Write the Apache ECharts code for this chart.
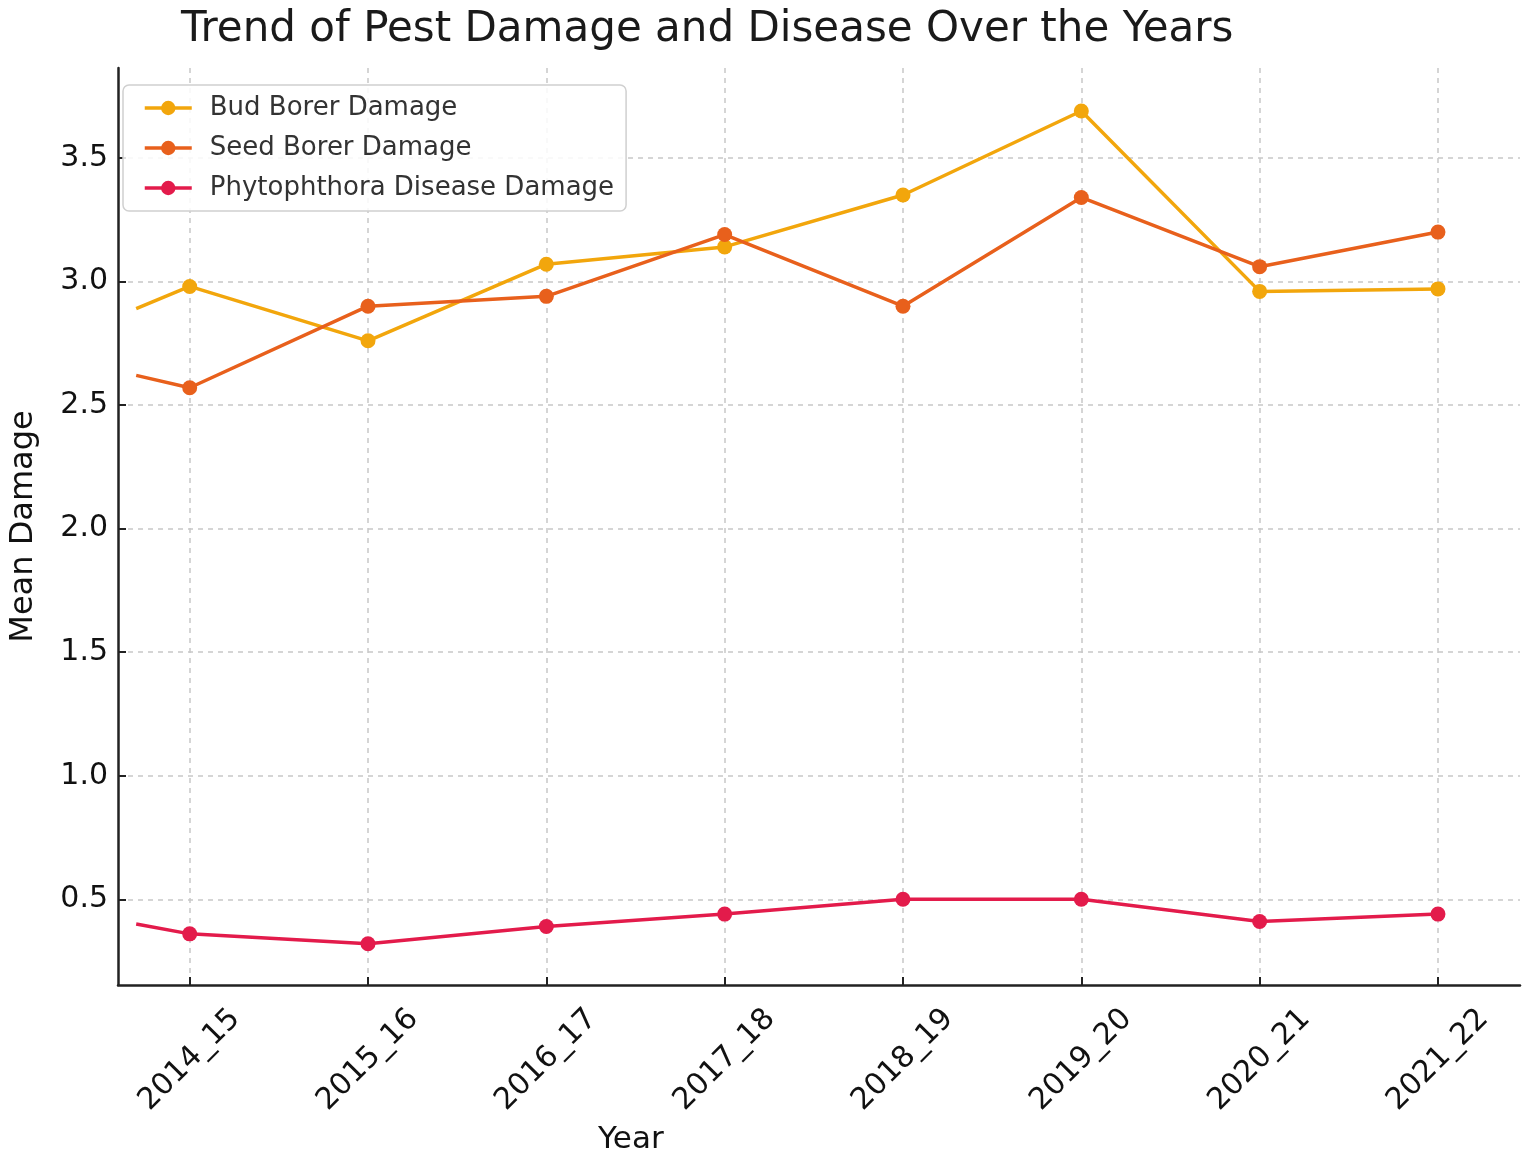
<!DOCTYPE html>
<html>
<head>
<meta charset="utf-8">
<title>Trend of Pest Damage and Disease Over the Years</title>
<script src="https://cdn.jsdelivr.net/npm/echarts@6/dist/echarts.min.js"></script>
<style>
  html, body { margin: 0; padding: 0; background: #fff; }
  #main { width: 1535px; height: 1176px; }
</style>
</head>
<body>
<div id="main"></div>
<script>
// categories and values
const years = ['2014_15', '2015_16', '2016_17', '2017_18', '2018_19', '2019_20', '2020_21', '2021_22'];
const budBorer = [2.98, 2.76, 3.07, 3.14, 3.35, 3.69, 2.96, 2.97];
const seedBorer = [2.57, 2.90, 2.94, 3.19, 2.90, 3.34, 3.06, 3.20];
const phytophthora = [0.36, 0.32, 0.39, 0.44, 0.50, 0.50, 0.41, 0.44];
// where the lines enter the plot on the left, before the first labelled year
const leadInX = -0.3;
const leadIn = [2.89, 2.62, 0.40];
const yTicks = [0.5, 1.0, 1.5, 2.0, 2.5, 3.0, 3.5];

const font = 'DejaVu Sans';
const colors = ['#F2A60C', '#E8601C', '#E31B4B'];
const names = ['Bud Borer Damage', 'Seed Borer Damage', 'Phytophthora Disease Damage'];
const values = [budBorer, seedBorer, phytophthora];
const xTicks = years.map((y, i) => i);

const chart = echarts.init(document.getElementById('main'), null, { renderer: 'canvas' });

const series = values.map((vals, k) => ({
  name: names[k],
  type: 'line',
  data: [{ value: [leadInX, leadIn[k]], symbol: 'none' }].concat(vals.map((v, i) => [i, v])),
  symbol: 'circle',
  symbolSize: 15,
  showAllSymbol: true,
  itemStyle: { color: colors[k] },
  lineStyle: { width: 3.5, color: colors[k] },
  emphasis: { disabled: true },
  z: 3 + k,
}));

const gridLine = { show: true, lineStyle: { color: '#c8c8c8', width: 1.5, type: [5, 5] } };

const option = {
  animation: false,
  backgroundColor: '#fff',
  title: {
    text: 'Trend of Pest Damage and Disease Over the Years',
    left: 176,
    top: 4,
    textStyle: { fontFamily: font, fontSize: 42, fontWeight: 'normal', color: '#1a1a1a' },
  },
  legend: {
    data: names,
    orient: 'vertical',
    left: 123,
    top: 85,
    padding: [10, 12, 10, 20],
    itemGap: 14,
    itemWidth: 47,
    itemHeight: 18,
    lineStyle: { width: 3.5 },
    backgroundColor: 'rgba(255,255,255,0.85)',
    borderColor: '#d0d0d0',
    borderWidth: 1.5,
    borderRadius: 6,
    textStyle: { fontFamily: font, fontSize: 26, color: '#333', padding: [0, 0, 0, 13] },
  },
  grid: { left: 113, right: 15, top: 68, bottom: 191, containLabel: false },
  xAxis: {
    type: 'value',
    min: -0.402,
    max: 7.46,
    axisLine: { show: true, onZero: false, lineStyle: { color: '#222', width: 2.5 } },
    axisTick: { show: true, inside: true, length: 8, customValues: xTicks, lineStyle: { color: '#222', width: 2 } },
    axisLabel: {
      customValues: xTicks,
      rotate: 45,
      align: 'center',
      verticalAlign: 'middle',
      margin: 75,
      fontFamily: font,
      fontSize: 30,
      color: '#111',
      formatter: (v) => years[v],
    },
    splitLine: gridLine,
  },
  yAxis: {
    type: 'value',
    min: 0.153,
    max: 3.864,
    name: 'Mean Damage',
    nameLocation: 'middle',
    nameRotate: 90,
    nameGap: 78,
    nameTextStyle: { fontFamily: font, fontSize: 32, color: '#111' },
    axisLine: { show: true, onZero: false, lineStyle: { color: '#222', width: 2.5 } },
    axisTick: { show: true, inside: true, length: 8, customValues: yTicks, lineStyle: { color: '#222', width: 2 } },
    axisLabel: {
      customValues: yTicks,
      margin: 10,
      fontFamily: font,
      fontSize: 30,
      color: '#111',
      formatter: (v) => v.toFixed(1),
    },
    splitLine: gridLine,
  },
  graphic: [{
    type: 'text',
    left: 598,
    top: 1124,
    style: { text: 'Year', font: '31px "DejaVu Sans"', fill: '#111' },
  }],
  series: series,
};

chart.setOption(option);
</script>
</body>
</html>
